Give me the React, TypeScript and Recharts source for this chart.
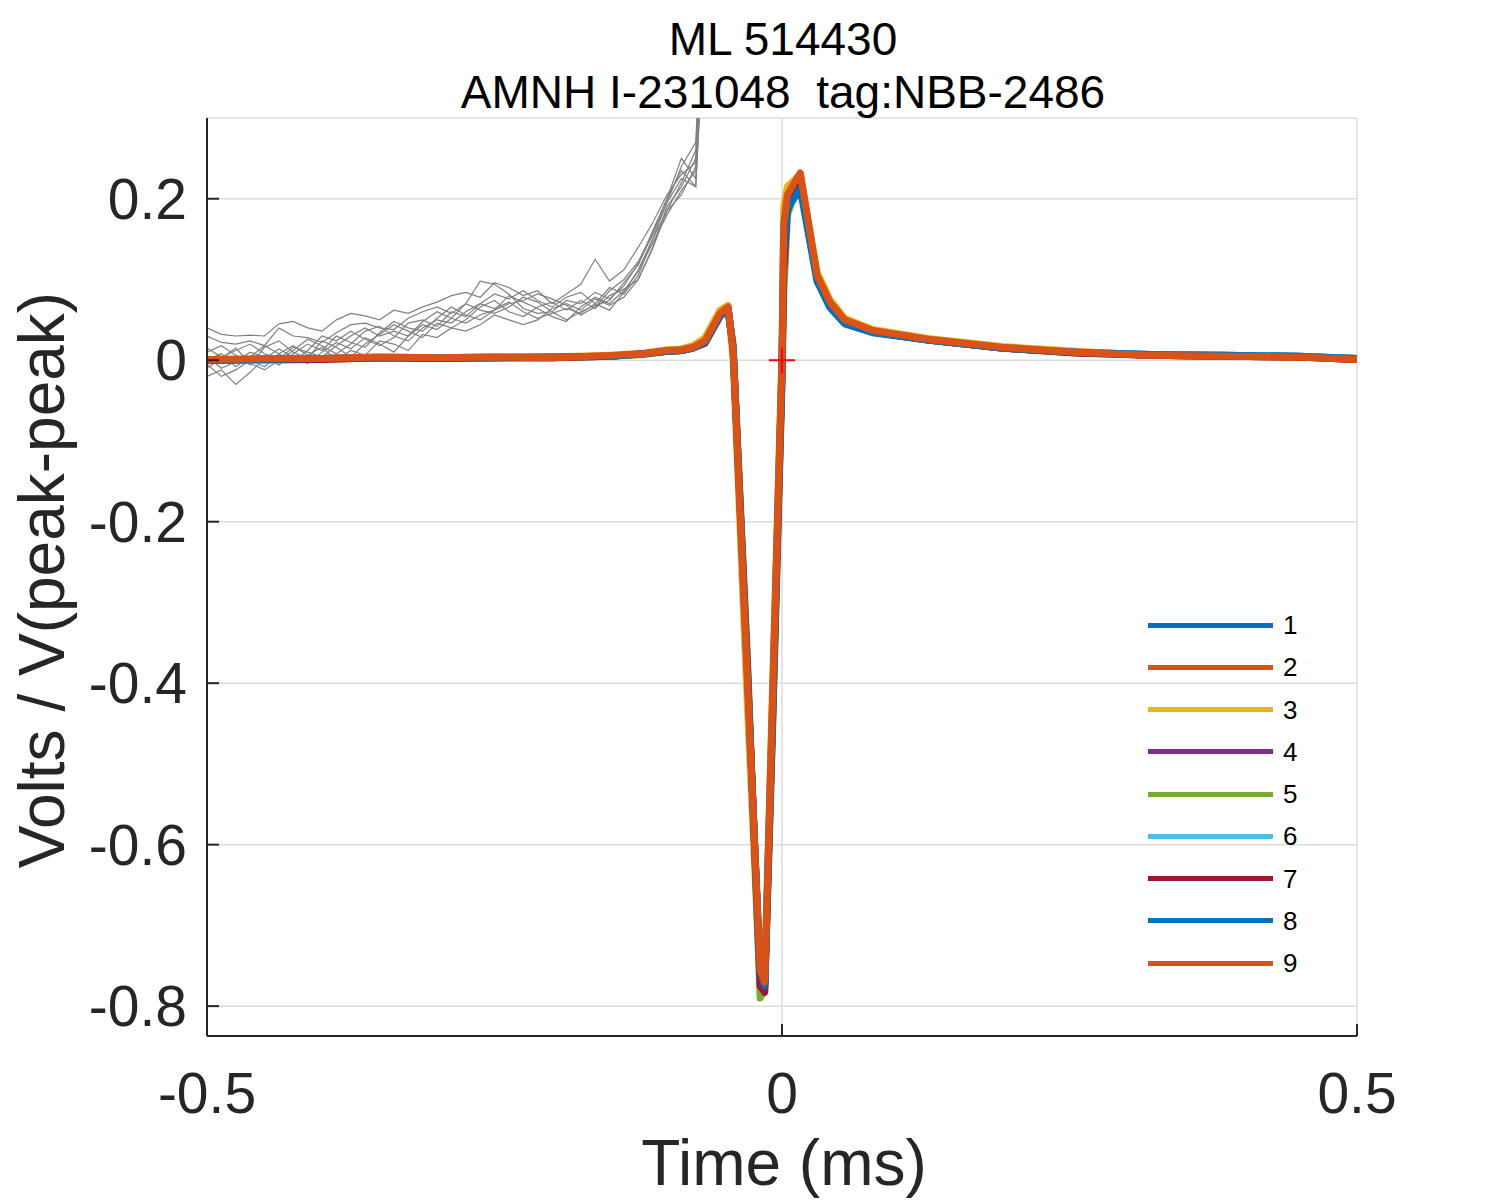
import React from "react";
import { ComposedChart, Line, XAxis, YAxis, CartesianGrid, ReferenceDot } from "recharts";

// ─── Data ─────────────────────────────────────────────────────────────────────
// grey traces (amplified pre-spike baseline), sampled every 0.0125 ms
const greyTime = [
  -0.5, -0.4875, -0.475, -0.4625, -0.45, -0.4375, -0.425, -0.4125, -0.4, -0.3875,
  -0.375, -0.3625, -0.35, -0.3375, -0.325, -0.3125, -0.3, -0.2875, -0.275, -0.2625,
  -0.25, -0.2375, -0.225, -0.2125, -0.2, -0.1875, -0.175, -0.1625, -0.15, -0.1375,
  -0.125, -0.1125, -0.1, -0.0875, -0.075, -0.0625,
];
const grey1 = [0.040, 0.032, 0.030, 0.031, 0.030, 0.045, 0.048, 0.040, 0.036, 0.050, 0.058, 0.055, 0.050, 0.062, 0.058, 0.066, 0.072, 0.080, 0.084, 0.078, 0.096, 0.090, 0.080, 0.086, 0.070, 0.082, 0.094, 0.125, 0.098, 0.112, 0.140, 0.170, 0.205, 0.230, 0.245, 0.62];
const grey2 = [0.030, 0.022, 0.020, 0.024, 0.018, 0.040, 0.030, 0.028, 0.022, 0.034, 0.044, 0.046, 0.040, 0.038, 0.052, 0.060, 0.066, 0.058, 0.070, 0.098, 0.094, 0.082, 0.064, 0.058, 0.060, 0.074, 0.070, 0.084, 0.076, 0.092, 0.120, 0.155, 0.195, 0.225, 0.215, 0.58];
const grey3 = [-0.010, 0.002, 0.015, -0.004, -0.012, 0.000, 0.012, 0.026, 0.018, 0.008, 0.020, 0.036, 0.042, 0.030, 0.024, 0.040, 0.050, 0.046, 0.060, 0.070, 0.064, 0.072, 0.060, 0.052, 0.058, 0.064, 0.058, 0.070, 0.090, 0.082, 0.105, 0.150, 0.195, 0.240, 0.270, 0.65];
const grey4 = [0.005, -0.010, -0.002, 0.010, 0.004, -0.006, 0.008, 0.020, 0.012, 0.030, 0.022, 0.016, 0.034, 0.048, 0.040, 0.036, 0.052, 0.066, 0.056, 0.050, 0.062, 0.080, 0.072, 0.064, 0.054, 0.048, 0.066, 0.078, 0.070, 0.086, 0.110, 0.145, 0.180, 0.210, 0.235, 0.60];
const grey5 = [-0.020, -0.012, -0.030, -0.015, 0.002, 0.014, 0.004, -0.004, 0.010, 0.022, 0.014, 0.028, 0.020, 0.010, 0.030, 0.044, 0.038, 0.052, 0.070, 0.062, 0.058, 0.066, 0.078, 0.072, 0.060, 0.050, 0.060, 0.068, 0.074, 0.096, 0.118, 0.160, 0.200, 0.250, 0.225, 0.55];
const grey6 = [0.010, 0.018, 0.006, -0.006, 0.016, 0.024, 0.010, 0.002, 0.024, 0.016, 0.004, 0.020, 0.032, 0.044, 0.036, 0.028, 0.046, 0.040, 0.050, 0.066, 0.074, 0.060, 0.054, 0.066, 0.072, 0.062, 0.074, 0.064, 0.080, 0.088, 0.100, 0.140, 0.190, 0.215, 0.250, 0.62];
const grey7 = [0.000, 0.008, -0.008, 0.004, 0.018, 0.008, -0.002, 0.012, 0.030, 0.024, 0.036, 0.026, 0.018, 0.028, 0.046, 0.050, 0.042, 0.060, 0.054, 0.070, 0.082, 0.076, 0.086, 0.074, 0.066, 0.078, 0.084, 0.070, 0.062, 0.084, 0.112, 0.150, 0.185, 0.220, 0.260, 0.64];
const grey8 = [0.015, 0.004, 0.012, 0.020, 0.008, 0.002, 0.016, 0.010, 0.004, 0.018, 0.030, 0.040, 0.030, 0.036, 0.030, 0.048, 0.060, 0.052, 0.046, 0.056, 0.062, 0.070, 0.074, 0.082, 0.076, 0.068, 0.056, 0.066, 0.086, 0.100, 0.122, 0.158, 0.200, 0.235, 0.215, 0.57];
const grey9 = [-0.005, -0.020, -0.012, 0.000, -0.008, 0.008, 0.018, 0.006, 0.016, 0.000, 0.012, 0.006, 0.024, 0.020, 0.012, 0.032, 0.028, 0.040, 0.036, 0.044, 0.056, 0.050, 0.044, 0.050, 0.064, 0.070, 0.062, 0.076, 0.068, 0.078, 0.100, 0.138, 0.185, 0.205, 0.240, 0.60];

// normalised spike waveforms, one per recording
const waveTime = [
  -0.5, -0.45, -0.4, -0.35, -0.3, -0.25, -0.2, -0.15, -0.12, -0.1,
  -0.0875, -0.0775, -0.067, -0.054, -0.047, -0.0425, -0.03, -0.019, -0.015, -0.008,
  0, 0.0015, 0.0047, 0.0159, 0.0304, 0.0417, 0.0545, 0.0787, 0.127, 0.191,
  0.256, 0.32, 0.384, 0.449, 0.5,
];
const wave1 = [0.000, 0.001, 0.002, 0.003, 0.003, 0.003, 0.004, 0.005, 0.008, 0.011, 0.012, 0.015, 0.022, 0.055, 0.065, 0.015, -0.39, -0.760, -0.772, -0.43, -0.010, 0.130, 0.190, 0.222, 0.100, 0.066, 0.046, 0.035, 0.025, 0.015, 0.010, 0.007, 0.006, 0.005, 0.002];
const wave2 = [0.001, 0.001, 0.002, 0.003, 0.003, 0.004, 0.004, 0.005, 0.008, 0.012, 0.013, 0.016, 0.023, 0.057, 0.066, 0.012, -0.40, -0.762, -0.770, -0.41, 0.000, 0.160, 0.200, 0.230, 0.104, 0.070, 0.049, 0.036, 0.026, 0.016, 0.010, 0.006, 0.005, 0.004, 0.001];
const wave3 = [0.001, 0.001, 0.002, 0.004, 0.003, 0.004, 0.004, 0.006, 0.009, 0.013, 0.014, 0.018, 0.028, 0.062, 0.068, 0.000, -0.43, -0.778, -0.760, -0.39, 0.010, 0.190, 0.215, 0.230, 0.110, 0.075, 0.052, 0.038, 0.027, 0.017, 0.011, 0.006, 0.005, 0.004, 0.002];
const wave4 = [0.000, 0.001, 0.002, 0.003, 0.002, 0.003, 0.003, 0.005, 0.008, 0.011, 0.012, 0.015, 0.022, 0.056, 0.065, 0.014, -0.39, -0.768, -0.775, -0.42, -0.010, 0.140, 0.195, 0.226, 0.102, 0.068, 0.047, 0.035, 0.025, 0.015, 0.009, 0.006, 0.005, 0.004, 0.001];
const wave5 = [0.000, 0.000, 0.001, 0.003, 0.002, 0.003, 0.003, 0.005, 0.007, 0.011, 0.012, 0.015, 0.021, 0.054, 0.064, 0.020, -0.37, -0.790, -0.780, -0.45, -0.030, 0.080, 0.180, 0.225, 0.104, 0.069, 0.048, 0.036, 0.025, 0.015, 0.010, 0.006, 0.005, 0.004, 0.002];
const wave6 = [0.001, 0.001, 0.002, 0.003, 0.003, 0.003, 0.004, 0.005, 0.008, 0.012, 0.013, 0.015, 0.022, 0.055, 0.065, 0.015, -0.39, -0.765, -0.772, -0.42, -0.005, 0.150, 0.198, 0.228, 0.101, 0.067, 0.046, 0.035, 0.025, 0.015, 0.010, 0.007, 0.006, 0.005, 0.002];
const wave7 = [0.000, 0.001, 0.001, 0.003, 0.002, 0.003, 0.003, 0.005, 0.008, 0.011, 0.012, 0.015, 0.021, 0.054, 0.064, 0.016, -0.38, -0.775, -0.783, -0.44, -0.020, 0.110, 0.185, 0.226, 0.103, 0.068, 0.047, 0.035, 0.025, 0.015, 0.009, 0.006, 0.005, 0.004, 0.001];
const wave8 = [0.000, 0.001, 0.002, 0.003, 0.003, 0.003, 0.004, 0.005, 0.008, 0.011, 0.012, 0.015, 0.022, 0.055, 0.065, 0.015, -0.39, -0.758, -0.775, -0.43, -0.010, 0.130, 0.188, 0.212, 0.098, 0.065, 0.045, 0.034, 0.025, 0.015, 0.010, 0.007, 0.006, 0.005, 0.002];
const wave9 = [0.001, 0.002, 0.002, 0.004, 0.003, 0.004, 0.003, 0.006, 0.008, 0.012, 0.013, 0.016, 0.024, 0.058, 0.066, 0.012, -0.40, -0.755, -0.770, -0.41, 0.000, 0.168, 0.205, 0.232, 0.106, 0.072, 0.050, 0.037, 0.026, 0.016, 0.010, 0.006, 0.005, 0.004, 0.001];

const seriesNames = ["1", "2", "3", "4", "5", "6", "7", "8", "9"];
const seriesColors = ["#0072BD", "#D95319", "#EDB120", "#7E2F8E", "#77AC30", "#4DBEEE", "#A2142F", "#0072BD", "#D95319"];

const xTicks = [-0.5, 0, 0.5];
const yTicks = [-0.8, -0.6, -0.4, -0.2, 0, 0.2];
const titleLines = ["ML 514430", "AMNH I-231048  tag:NBB-2486"];
const xLabel = "Time (ms)";
const yLabel = "Volts / V(peak-peak)";

// ─── Layout ───────────────────────────────────────────────────────────────────
const W = 1500, H = 1200;
const PL = 207, PR = 1357, PT = 118, PB = 1036;
const Y_AXIS_W = 120, X_AXIS_H = 80;
const AX = "#262626";
const FONT = "'Liberation Sans', Arial, Helvetica, sans-serif";

const greyRows = [grey1, grey2, grey3, grey4, grey5, grey6, grey7, grey8, grey9]
  .map(vals => vals.map((v, i) => ({ t: greyTime[i], v })));
const waveRows = [wave1, wave2, wave3, wave4, wave5, wave6, wave7, wave8, wave9]
  .map(vals => vals.map((v, i) => ({ t: waveTime[i], v })));

const fmt = (v: number) => (v === 0 ? "0" : String(v));

const YTick = ({ y, payload }: any) => (
  <g>
    <line x1={PL} x2={PL + 12} y1={y} y2={y} stroke={AX} strokeWidth={2} />
    <text x={PL - 20} y={y + 20} textAnchor="end" fontSize={57} fill={AX} fontFamily={FONT}>
      {fmt(payload.value)}
    </text>
  </g>
);

const XTick = ({ x, payload }: any) => (
  <g>
    <line x1={x} x2={x} y1={PB} y2={PB - 12} stroke={AX} strokeWidth={2} />
    <text x={x} y={PB + 77} textAnchor="middle" fontSize={57} fill={AX} fontFamily={FONT}>
      {fmt(payload.value)}
    </text>
  </g>
);

const Plus = ({ cx, cy }: any) => (
  <g stroke="#FF0000" strokeWidth={2}>
    <line x1={cx - 13} x2={cx + 13} y1={cy} y2={cy} />
    <line x1={cx} x2={cx} y1={cy - 13} y2={cy + 13} />
  </g>
);

// ─── Component ────────────────────────────────────────────────────────────────
const App = () => (
  <div style={{ position: "absolute", left: 0, top: 0, width: W, height: H, background: "#fff", fontFamily: FONT }}>
    <ComposedChart
      width={W} height={H}
      margin={{ top: PT, right: W - PR, bottom: H - PB - X_AXIS_H, left: PL - Y_AXIS_W }}
    >
      <CartesianGrid stroke="#dcdcdc" strokeWidth={1.5} />
      <XAxis
        type="number" dataKey="t" domain={[-0.5, 0.5]} ticks={xTicks} allowDataOverflow
        height={X_AXIS_H} tickSize={0} interval={0}
        axisLine={{ stroke: AX, strokeWidth: 2 }} tick={<XTick />}
      />
      <YAxis
        type="number" domain={[-0.837, 0.3]} ticks={yTicks} allowDataOverflow
        width={Y_AXIS_W} tickSize={0} interval={0}
        axisLine={{ stroke: AX, strokeWidth: 2 }} tick={<YTick />}
      />

      {greyRows.map((rows, i) => (
        <Line key={"g" + i} data={rows} dataKey="v" type="linear" stroke="#808080" strokeWidth={1.2}
          dot={false} activeDot={false} legendType="none" isAnimationActive={false} />
      ))}

      {waveRows.map((rows, i) => (
        <Line key={"w" + i} data={rows} dataKey="v" name={seriesNames[i]} type="linear"
          stroke={seriesColors[i]} strokeWidth={7} strokeLinejoin="round" strokeLinecap="round"
          dot={false} activeDot={false} isAnimationActive={false} />
      ))}

      <ReferenceDot x={0} y={0} ifOverflow="visible" shape={<Plus />} />
    </ComposedChart>

    {/* ── Title and axis labels ─────────────────────────────────────────── */}
    <svg width={W} height={H} style={{ position: "absolute", left: 0, top: 0, pointerEvents: "none" }}>
      {titleLines.map((s, i) => (
        <text key={i} x={783} y={55 + i * 53} textAnchor="middle" fontSize={46} fill="#000"
          fontFamily={FONT} style={{ whiteSpace: "pre" }}>{s}</text>
      ))}
      <text x={784} y={1185} textAnchor="middle" fontSize={64} fill={AX} fontFamily={FONT}>{xLabel}</text>
      <text transform="translate(64,580) rotate(-90)" textAnchor="middle" fontSize={64} fill={AX} fontFamily={FONT}>
        {yLabel}
      </text>
    </svg>

    {/* ── Legend ───────────────────────────────────────────────────────── */}
    {seriesNames.map((name, i) => (
      <div key={name} style={{
        position: "absolute", left: 1148, top: 625 + i * 42.25 - 21, height: 42,
        display: "flex", alignItems: "center",
      }}>
        <div style={{ width: 125, height: 5, background: seriesColors[i] }} />
        <span style={{ marginLeft: 10, fontSize: 26, color: "#000", lineHeight: "42px" }}>{name}</span>
      </div>
    ))}
  </div>
);

export default App;
